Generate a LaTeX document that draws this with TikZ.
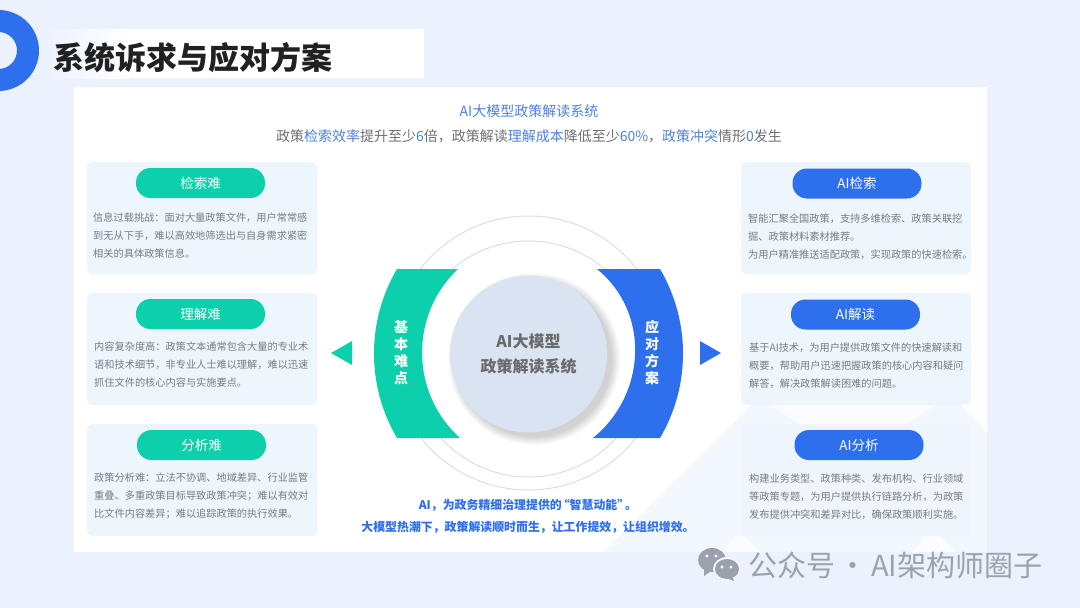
\documentclass[tikz,border=0pt]{standalone}
\usepackage{fontspec}
\setmainfont{Noto Sans CJK SC}
\definecolor{bgblue}{HTML}{ECF2FD}
\definecolor{cardblue}{HTML}{EDF5FD}
\definecolor{palewash}{HTML}{F3F7FE}
\definecolor{glint}{HTML}{FAFCFF}
\definecolor{mint}{HTML}{0CCFAB}
\definecolor{royal}{HTML}{2D6FEC}
\definecolor{hubfill}{HTML}{D9E3F2}
\definecolor{bodygray}{HTML}{7A7D82}
\definecolor{linkblue}{HTML}{4C82DA}
\definecolor{markgray}{HTML}{9CA2AD}
\tikzset{
  card/.style={fill=cardblue,rounded corners=5pt},
  pill/.style={rounded corners=14.5pt,minimum width=129pt,minimum height=30pt,inner sep=0pt,text=white,font=\fontsize{13.5}{16}\selectfont},
  cardtext/.style={anchor=north west,inner sep=0pt,align=left,text=bodygray,font=\fontsize{10.2}{18}\selectfont},
  band/.style={inner sep=0pt,align=center,text=white,font=\fontsize{14}{17}\bfseries\selectfont},
  ring/.style={draw=black!13,line width=1pt},
}
\begin{document}
\begin{tikzpicture}[x=1pt,y=-1pt,line join=round,line cap=round]
	\useasboundingbox (0,0) rectangle (1080,608);
	\fill[bgblue] (0,0) rectangle (1080,608);
	% heading
	\fill[left color=bgblue,right color=white] (45,29) rectangle (130,78);
	\fill[white] (130,29) rectangle (424,78);
	\fill[royal,even odd rule] (-1.5,50.5) circle(40.5) (-1.5,50.5) circle(18.5);
	\node[anchor=west,inner sep=0pt,text=black!87,font=\fontsize{31}{34}\bfseries\selectfont] (heading) at (53,58) {系统诉求与应对方案};
	% panel and wash
	\fill[white] (74,87) rectangle (987,552);
	\fill[palewash] (752,405) -- (603,552) -- (987,552) -- (987,432) -- (960,405) -- cycle;
	\fill[glint] (770,405) -- (937,405) -- (905,424) -- (800,424) -- cycle;
	\fill[glint] (735,536) -- (725,552) -- (760,552) -- (745,536) -- cycle;
	\fill[glint] (925,536) -- (912,552) -- (955,552) -- (940,536) -- cycle;
	\node[text=linkblue,inner sep=0pt,font=\fontsize{14}{16}\selectfont] (toptitle) at (529,111) {AI大模型政策解读系统};
	\node[text=bodygray!90!black,inner sep=0pt,font=\fontsize{14}{18}\selectfont] (topline) at (529,136) {政策\textcolor{linkblue}{检索效率}提升至少\textcolor{linkblue}{6}倍，政策解读\textcolor{linkblue}{理解成本}降低至少\textcolor{linkblue}{60\%}，\textcolor{linkblue}{政策冲突}情形\textcolor{linkblue}{0}发生};
	% left column
	\fill[card] (87,162) rectangle (317,274);
	\fill[card] (87,293) rectangle (317,405);
	\fill[card] (87,424) rectangle (317,536);
	\node[pill,fill=mint] (jiansuo) at (200.5,183) {检索难};
	\node[pill,fill=mint] (lijie) at (200.5,314) {理解难};
	\node[pill,fill=mint] (fenxi) at (201.5,445) {分析难};
	\node[cardtext] (jiansuotext) at (93,212.5) {信息过载挑战：面对大量政策文件，用户常常感\\到无从下手，难以高效地筛选出与自身需求紧密\\相关的具体政策信息。};
	\node[cardtext] (lijietext) at (94,342) {内容复杂度高：政策文本通常包含大量的专业术\\语和技术细节，非专业人士难以理解，难以迅速\\抓住文件的核心内容与实施要点。};
	\node[cardtext] (fenxitext) at (94,473) {政策分析难：立法不协调、地域差异、行业监管\\重叠、多重政策目标导致政策冲突；难以有效对\\比文件内容差异；难以追踪政策的执行效果。};
	% right column
	\fill[card] (741,162) rectangle (971,274);
	\fill[card] (741,293) rectangle (971,405);
	\fill[card,opacity=.6] (741,424) rectangle (971,536);
	\node[pill,fill=royal] (aijiansuo) at (857,183.5) {AI检索};
	\node[pill,fill=royal] (aijiedu) at (855.5,314.5) {AI解读};
	\node[pill,fill=royal] (aifenxi) at (859,445) {AI分析};
	\node[cardtext] (aijiansuotext) at (748,213.5) {智能汇聚全国政策，支持多维检索、政策关联挖\\掘、政策材料素材推荐。\\为用户精准推送适配政策，实现政策的快速检索。};
	\node[cardtext] (aijiedutext) at (749,342.5) {基于AI技术，为用户提供政策文件的快速解读和\\概要，帮助用户迅速把握政策的核心内容和疑问\\解答，解决政策解读困难的问题。};
	\node[cardtext] (aifenxitext) at (749,473.5) {构建业务类型、政策种类、发布机构、行业领域\\等政策专题，为用户提供执行链路分析，为政策\\发布提供冲突和差异对比，确保政策顺利实施。};
	% rings and hub
	\draw[ring] (528.5,353) circle(137);
	\draw[ring] (528.5,359) circle(118);
	\foreach \r in {78,79,...,86}
		\fill[black,opacity=.02] (534,359) circle(\r);
	\node[circle,fill=hubfill,minimum size=157pt,inner sep=0pt,align=center,text=black!58,font=\fontsize{16}{25}\bfseries\selectfont] (hub) at (528.5,354) {AI大模型\\政策解读系统};
	% bands
	\fill[mint] (397,269) .. controls (366.3,321.1) and (366.3,385.9) .. (397,438) -- (460,438) .. controls (409.7,392.5) and (409.7,314.5) .. (458,269) -- cycle;
	\fill[royal] (660,269) .. controls (690.7,321.1) and (690.7,385.9) .. (660,438) -- (593,438) .. controls (646.5,394.4) and (650.5,312.6) .. (597,269) -- cycle;
	\node[band] (nandian) at (401,353) {基\\本\\难\\点};
	\node[band] (fangan) at (652,353) {应\\对\\方\\案};
	\fill[mint] (331,353) -- (352,341) -- (352,365) -- cycle;
	\fill[royal] (721,353) -- (700,341) -- (700,365) -- cycle;
	% closing lines
	\node[inner sep=0pt,align=center,text=royal,font=\fontsize{11.9}{22}\bfseries\selectfont] (closing) at (528,516) {AI，为政务精细治理提供的\kern-4pt“智慧动能”\kern-4pt。\\大模型热潮下，政策解读顺时而生，让工作提效，让组织增效。};
	% watermark
	\fill[markgray] (712,560) ellipse(14 and 12);
	\fill[markgray] (704,568) -- (704,576) -- (711,571) -- cycle;
	\fill[palewash] (727,569) ellipse(14 and 12);
	\fill[markgray] (727,569) ellipse(12 and 10);
	\fill[markgray] (732,576) -- (734,581) -- (726,578) -- cycle;
	\foreach \ex/\ey in {707/556,716/556,722/567,731/567}
		\fill[white] (\ex,\ey) circle(1.7);
	\node[anchor=west,inner sep=0pt,text=markgray,font=\fontsize{29}{30}\selectfont] (mark) at (748,565) {公众号 \kern-3pt· \kern-3pt AI架构师圈子};
\end{tikzpicture}
\end{document}
